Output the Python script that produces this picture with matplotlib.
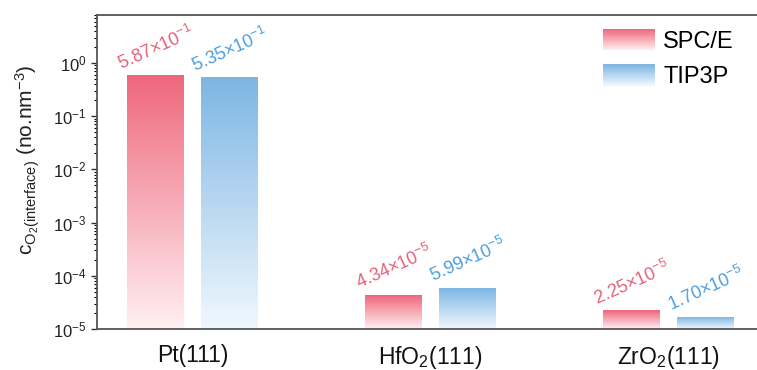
import numpy as np
import matplotlib
matplotlib.use("Agg")
import matplotlib.pyplot as plt
from matplotlib.patches import Rectangle
from matplotlib.legend_handler import HandlerBase
from matplotlib.colors import to_rgb

plt.rcParams['font.family'] = ['Liberation Sans', 'DejaVu Sans']
plt.rcParams['mathtext.fontset'] = 'custom'
plt.rcParams['mathtext.rm'] = 'Liberation Sans'
plt.rcParams['mathtext.it'] = 'Liberation Sans:italic'
plt.rcParams['mathtext.bf'] = 'Liberation Sans:bold'

# data
surfaces = ['Pt(111)', r'HfO$_2$(111)', r'ZrO$_2$(111)']
models = ['SPC/E', 'TIP3P']
spce = [5.87e-1, 4.34e-5, 2.25e-5]
tip3p = [5.35e-1, 5.99e-5, 1.70e-5]

top_colors = ['#ee677b', '#7db6e3']
text_colors = ['#e4627a', '#4a9fe0']
fade_colors = ['#fff0f2', '#f0f7fe']

y_bottom = 1e-5


def blend(c1, c2, t):
    a = np.array(to_rgb(c1))
    b = np.array(to_rgb(c2))
    return tuple(a * (1 - t) + b * t)


def gradient_fill(ax, bar, top_c, low_c, n=80):
    # fade bar from full colour at top to pale at bottom (even in log space)
    x0 = bar.get_x()
    w = bar.get_width()
    lo = np.log10(bar.get_y())
    hi = np.log10(bar.get_y() + bar.get_height())
    edges = np.linspace(lo, hi, n + 1)
    for i in range(n):
        t = 1 - (i + 0.5) / n
        ax.fill_between([x0, x0 + w], 10 ** edges[i], 10 ** edges[i + 1],
                        color=blend(top_c, low_c, t), lw=0, zorder=2)


class GradientHandler(HandlerBase):
    def __init__(self, top_c, low_c):
        super().__init__()
        self.top_c = top_c
        self.low_c = low_c

    def create_artists(self, legend, orig_handle, xdescent, ydescent,
                       width, height, fontsize, trans):
        arts = []
        n = 30
        for i in range(n):
            t = 1 - (i + 0.5) / n
            r = Rectangle((-xdescent, -ydescent + height * i / n),
                          width, height / n + 0.2,
                          facecolor=blend(self.top_c, self.low_c, t),
                          lw=0, transform=trans)
            arts.append(r)
        return arts


fig = plt.figure(figsize=(7.57, 3.70), dpi=100)
ax = fig.add_axes([97 / 757, 1 - 329 / 370, 1 - 97 / 757, 314 / 370])

x = np.arange(len(surfaces))
width = 0.24
offset = 0.155

series = [spce, tip3p]
handles = []
for k, vals in enumerate(series):
    xs = x + (k * 2 - 1) * offset
    heights = [v - y_bottom for v in vals]
    bars = ax.bar(xs, heights, width, bottom=y_bottom, color='none',
                  lw=0, label=models[k])
    handles.append(bars)
    for bar, v in zip(bars, vals):
        gradient_fill(ax, bar, top_colors[k], fade_colors[k])
        e = int(np.floor(np.log10(v)))
        m = v / 10 ** e
        ax.text(bar.get_x() - 0.018, v * 1.08,
                r'%.2f$\times$10$^{%d}$' % (m, e),
                color=text_colors[k], fontsize=13, rotation=24,
                rotation_mode='anchor', ha='left', va='bottom')

ax.set_yscale('log')
ax.set_ylim(y_bottom, 8)
ax.set_xlim(-0.401, -0.401 + 660 / 238)

ax.set_xticks(x)
ax.set_xticklabels(surfaces, fontsize=16.5)
ax.tick_params(axis='x', length=0, pad=11)
ax.tick_params(axis='y', which='major', length=4, width=1, labelsize=12,
               colors='#333333', direction='out')
ax.tick_params(axis='y', which='minor', length=2.5, width=0.8,
               direction='out')
ax.tick_params(axis='y', labelcolor='#222222')
ax.tick_params(axis='x', labelcolor='#111111')

for s in ['left', 'bottom', 'top']:
    ax.spines[s].set_color('#555555')
    ax.spines[s].set_linewidth(1.3)
ax.spines['right'].set_visible(False)

ax.set_ylabel(r'c$_{\mathrm{O_2(interface)}}$ (no.nm$^{-3}$)', fontsize=15,
              color='#222222')
ax.yaxis.set_label_coords(-0.084, 0.54)

ax.legend(handles, models, loc='upper left', frameon=False, fontsize=17,
          handlelength=2.2, handleheight=1.0, handletextpad=0.35,
          labelspacing=0.5, borderaxespad=0, borderpad=0,
          bbox_to_anchor=((603 - 97) / 660, 1 - (29 - 15) / 314),
          handler_map={handles[0]: GradientHandler(top_colors[0], fade_colors[0]),
                       handles[1]: GradientHandler(top_colors[1], fade_colors[1])})

fig.savefig('out.png', dpi=100)
